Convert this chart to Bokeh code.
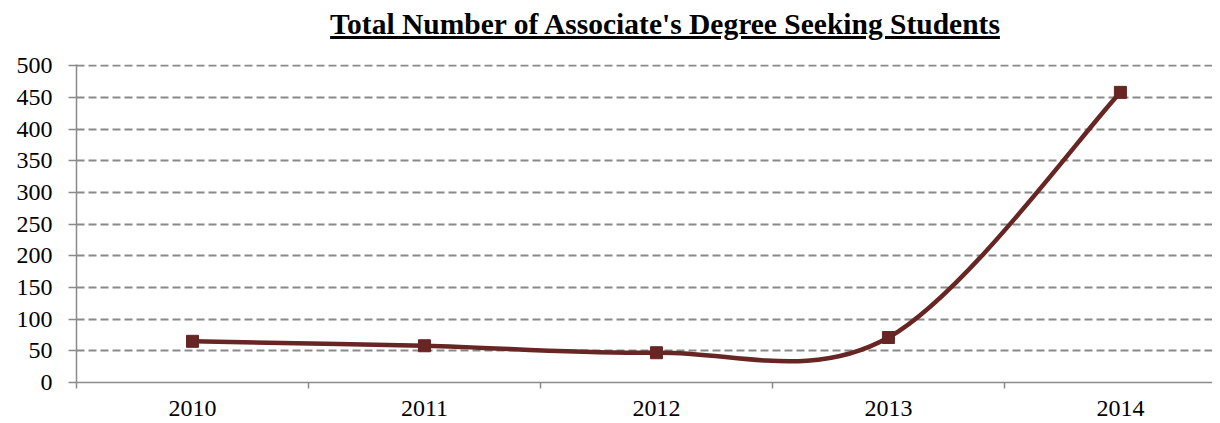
from bokeh.plotting import figure
from bokeh.models import FixedTicker, Div, Range1d, ColumnDataSource
from bokeh.layouts import column
from bokeh.embed import file_html
from bokeh.resources import INLINE

# ---- data ----
years = ["2010", "2011", "2012", "2013", "2014"]
students = [65, 58, 47, 71, 458]
y_ticks = [0, 50, 100, 150, 200, 250, 300, 350, 400, 450, 500]
title_text = "Total Number of Associate's Degree Seeking Students"

LINE = "#672524"
GRID = "#8a8a8a"
FONT = "Liberation Serif"

xs = list(range(len(years)))

# Excel-like smooth line: Catmull-Rom -> cubic Bezier control points
n = len(xs)
x0, y0, x1, y1, cx0, cy0, cx1, cy1 = [], [], [], [], [], [], [], []
for i in range(n - 1):
    pm = (xs[max(i - 1, 0)], students[max(i - 1, 0)])
    p0 = (xs[i], students[i])
    p1 = (xs[i + 1], students[i + 1])
    pp = (xs[min(i + 2, n - 1)], students[min(i + 2, n - 1)])
    x0.append(p0[0]); y0.append(p0[1])
    x1.append(p1[0]); y1.append(p1[1])
    cx0.append(p0[0] + (p1[0] - pm[0]) / 6.0)
    cy0.append(p0[1] + (p1[1] - pm[1]) / 6.0)
    cx1.append(p1[0] - (pp[0] - p0[0]) / 6.0)
    cy1.append(p1[1] - (pp[1] - p0[1]) / 6.0)

seg = ColumnDataSource(dict(x0=x0, y0=y0, x1=x1, y1=y1, cx0=cx0, cy0=cy0, cx1=cx1, cy1=cy1))
pts = ColumnDataSource(dict(x=xs, y=students))

p = figure(width=1212, height=374, output_backend="svg", toolbar_location=None,
           x_range=Range1d(-0.5, 4.397), y_range=Range1d(0, 502),
           min_border_left=76, min_border_right=0, min_border_top=15, min_border_bottom=41)
p.outline_line_color = None
p.background_fill_color = "white"
p.border_fill_color = "white"

p.bezier(x0="x0", y0="y0", x1="x1", y1="y1", cx0="cx0", cy0="cy0", cx1="cx1", cy1="cy1",
         source=seg, line_color=LINE, line_width=4.5, line_cap="round")
p.scatter("x", "y", source=pts, marker="square", size=12, fill_color=LINE, line_color=LINE)

# x axis
p.xaxis.ticker = FixedTicker(ticks=xs, minor_ticks=[i - 0.5 for i in xs])
p.xaxis.major_label_overrides = {i: y for i, y in zip(xs, years)}
p.xaxis.major_tick_line_color = None
p.xaxis.major_tick_out = 0
p.xaxis.major_tick_in = 0
p.xaxis.minor_tick_out = 6
p.xaxis.minor_tick_in = 0
p.xaxis.minor_tick_line_color = GRID
p.xaxis.minor_tick_line_width = 1.5
p.xaxis.axis_line_color = GRID
p.xaxis.axis_line_width = 1.5
p.xaxis.major_label_text_font = FONT
p.xaxis.major_label_text_font_size = "24px"
p.xaxis.major_label_text_color = "black"
p.xaxis.major_label_standoff = 12

# y axis
p.yaxis.ticker = FixedTicker(ticks=y_ticks)
p.yaxis.minor_tick_line_color = None
p.yaxis.major_tick_out = 8
p.yaxis.major_tick_in = 0
p.yaxis.major_tick_line_color = GRID
p.yaxis.major_tick_line_width = 1.5
p.yaxis.axis_line_color = GRID
p.yaxis.axis_line_width = 1.5
p.yaxis.major_label_text_font = FONT
p.yaxis.major_label_text_font_size = "24px"
p.yaxis.major_label_text_color = "black"
p.yaxis.major_label_standoff = 16

p.xgrid.grid_line_color = None
p.ygrid.ticker = FixedTicker(ticks=y_ticks)
p.ygrid.grid_line_color = GRID
p.ygrid.grid_line_width = 2
p.ygrid.grid_line_dash = "8 4"

title = Div(text=f'<div style="box-sizing:border-box;width:1212px;padding-left:108px;padding-top:5px;text-align:center;'
                 f'font-family:\'{FONT}\';font-weight:bold;font-size:29.5px;line-height:29px;'
                 f'text-decoration:underline;text-decoration-thickness:3px;color:black;">{title_text}</div>',
            width=1212, height=39)

layout = column(title, p, spacing=0)
open("out.html", "w").write(file_html(layout, INLINE))
